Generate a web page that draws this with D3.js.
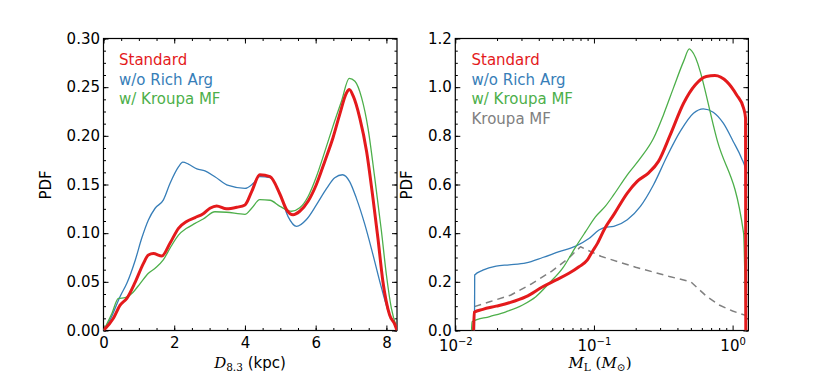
<!DOCTYPE html>
<html>
<head>
<meta charset="utf-8">
<script src="https://cdn.jsdelivr.net/npm/d3@7"></script>
<style>
  body { margin: 0; background: #fff; }
  svg { display: block; }
  .tick text { font-family: "DejaVu Sans", sans-serif; font-size: 15px; fill: #000; }
</style>
</head>
<body>
<div id="chart"></div>
<script>
// left panel: PDF of lens distance D_8.3 (kpc)
const distStandard = [[0,0],[0.28,0.0125],[0.47,0.026],[0.66,0.033],[0.9,0.05],[1.13,0.069],[1.27,0.0776],[1.41,0.079],[1.65,0.0766],[1.88,0.0896],[2.12,0.105],[2.35,0.112],[2.59,0.116],[2.82,0.12],[3.01,0.1256],[3.2,0.128],[3.48,0.125],[3.77,0.1266],[4.0,0.129],[4.19,0.1427],[4.42,0.16],[4.71,0.158],[4.99,0.14],[5.18,0.124],[5.36,0.119],[5.55,0.1225],[5.79,0.133],[6.02,0.15],[6.26,0.174],[6.49,0.198],[6.68,0.222],[6.87,0.244],[6.95,0.2475],[7.06,0.241],[7.25,0.218],[7.44,0.184],[7.62,0.136],[7.76,0.095],[7.9,0.0506],[8.09,0.016],[8.24,0.006],[8.3,0]];
const distNoRich = [[0,0],[0.2,0.012],[0.47,0.035],[0.66,0.0485],[0.9,0.0725],[1.08,0.0947],[1.27,0.1136],[1.46,0.1256],[1.69,0.134],[1.88,0.151],[2.12,0.168],[2.24,0.173],[2.4,0.171],[2.64,0.166],[2.87,0.164],[3.15,0.158],[3.53,0.149],[4.0,0.146],[4.23,0.151],[4.42,0.158],[4.71,0.157],[4.99,0.14],[5.22,0.117],[5.46,0.107],[5.74,0.114],[6.02,0.129],[6.31,0.146],[6.54,0.157],[6.76,0.16],[6.96,0.153],[7.15,0.136],[7.39,0.109],[7.62,0.078],[7.86,0.044],[8.09,0.016],[8.24,0.006],[8.3,0]];
const distKroupa = [[0,0],[0.24,0.0177],[0.42,0.033],[0.61,0.0337],[0.8,0.038],[1.04,0.0485],[1.27,0.0588],[1.46,0.064],[1.69,0.0725],[1.88,0.0845],[2.12,0.098],[2.35,0.105],[2.59,0.11],[2.82,0.1146],[3.15,0.122],[3.48,0.1215],[4.0,0.1194],[4.19,0.1256],[4.42,0.1344],[4.71,0.1338],[4.99,0.1276],[5.32,0.1225],[5.55,0.126],[5.79,0.138],[6.02,0.158],[6.26,0.184],[6.49,0.21],[6.73,0.2356],[6.95,0.259],[7.11,0.256],[7.3,0.239],[7.48,0.208],[7.67,0.157],[7.86,0.102],[8.0,0.0573],[8.14,0.023],[8.28,0.004]];

// right panel: PDF of lens mass M_L (M_sun)
const massStandard = [[0.01355,0],[0.0137,0.075],[0.0158,0.087],[0.0197,0.1],[0.0245,0.114],[0.0324,0.139],[0.0427,0.18],[0.053,0.207],[0.066,0.235],[0.078,0.262],[0.0897,0.29],[0.0973,0.324],[0.106,0.358],[0.12,0.42],[0.139,0.476],[0.174,0.565],[0.205,0.613],[0.247,0.647],[0.292,0.695],[0.355,0.804],[0.443,0.934],[0.537,1.009],[0.646,1.044],[0.746,1.048],[0.908,1.023],[1.07,0.968],[1.2,0.914],[1.24,0.873],[1.245,0]];
const massNoRich = [[0.01375,0],[0.0138,0.228],[0.0158,0.248],[0.0197,0.265],[0.0245,0.27],[0.0324,0.278],[0.0427,0.3],[0.0561,0.324],[0.0739,0.347],[0.092,0.378],[0.1087,0.413],[0.12,0.424],[0.139,0.428],[0.174,0.455],[0.2163,0.51],[0.269,0.599],[0.336,0.715],[0.419,0.818],[0.522,0.893],[0.615,0.911],[0.725,0.897],[0.857,0.852],[1.01,0.777],[1.16,0.708],[1.24,0.66],[1.245,0]];
const massKroupa = [[0.0131,0],[0.0132,0.036],[0.0177,0.057],[0.0232,0.077],[0.0306,0.105],[0.0381,0.139],[0.0475,0.194],[0.0593,0.255],[0.0739,0.344],[0.087,0.406],[0.1025,0.467],[0.121,0.511],[0.139,0.558],[0.174,0.64],[0.2163,0.708],[0.269,0.79],[0.317,0.886],[0.374,0.996],[0.443,1.106],[0.488,1.157],[0.507,1.149],[0.78,0.775],[1.2,0.4],[1.245,0]];
const kroupaMF = [[0.01365,0],[0.0137,0.098],[0.0177,0.118],[0.025,0.145],[0.035,0.19],[0.05,0.245],[0.065,0.295],[0.08,0.344],[0.112,0.305],[0.2,0.26],[0.35,0.222],[0.5,0.2],[0.65,0.14],[0.8,0.105],[1.0,0.08],[1.24,0.062]];

const distTicks = [0, 2, 4, 6, 8];
const distPdfTicks = [0, 0.05, 0.1, 0.15, 0.2, 0.25, 0.3];
const massTicks = [0.01, 0.1, 1];
const massPdfTicks = [0, 0.2, 0.4, 0.6, 0.8, 1.0, 1.2];
const leftLegend = ["Standard", "w/o Rich Arg", "w/ Kroupa MF"];
const rightLegend = ["Standard", "w/o Rich Arg", "w/ Kroupa MF", "Kroupa MF"];

const red = "#e41a1c", blue = "#377eb8", green = "#4daf4a", gray = "#808080";
const legendColors = [red, blue, green, gray];

const width = 831, height = 389;
const plotTop = 38.5, plotBottom = 330.5;

const svg = d3.select("#chart").append("svg")
  .attr("width", width).attr("height", height);

function frame(x, y, xMinor, yMinor, xFmt, yFmt) {
  const g = svg.append("g");
  const [x0, x1] = x.range();
  // minor ticks
  g.append("g").attr("transform", `translate(0,${plotBottom})`)
    .call(d3.axisBottom(x).tickValues(xMinor).tickSize(-2.5).tickSizeOuter(0).tickFormat(""));
  g.append("g").attr("transform", `translate(0,${plotTop})`)
    .call(d3.axisTop(x).tickValues(xMinor).tickSize(-2.5).tickSizeOuter(0).tickFormat(""));
  g.append("g").attr("transform", `translate(${x0},0)`)
    .call(d3.axisLeft(y).tickValues(yMinor).tickSize(-2.5).tickSizeOuter(0).tickFormat(""));
  g.append("g").attr("transform", `translate(${x1},0)`)
    .call(d3.axisRight(y).tickValues(yMinor).tickSize(-2.5).tickSizeOuter(0).tickFormat(""));
  // major ticks
  const xb = g.append("g").attr("transform", `translate(0,${plotBottom})`)
    .call(d3.axisBottom(x).tickValues(x.majors).tickSize(-5).tickSizeOuter(0).tickPadding(7).tickFormat(xFmt));
  g.append("g").attr("transform", `translate(0,${plotTop})`)
    .call(d3.axisTop(x).tickValues(x.majors).tickSize(-5).tickSizeOuter(0).tickFormat(""));
  g.append("g").attr("transform", `translate(${x0},0)`)
    .call(d3.axisLeft(y).tickValues(y.majors).tickSize(-5).tickSizeOuter(0).tickPadding(3.5).tickFormat(yFmt));
  g.append("g").attr("transform", `translate(${x1},0)`)
    .call(d3.axisRight(y).tickValues(y.majors).tickSize(-5).tickSizeOuter(0).tickFormat(""));
  g.selectAll(".domain").remove();
  g.selectAll(".tick line").attr("stroke", "#000").attr("stroke-width", 1);
  g.selectAll("g").attr("font-size", null).attr("font-family", null);
  g.append("rect")
    .attr("x", x0).attr("y", plotTop)
    .attr("width", x1 - x0).attr("height", plotBottom - plotTop)
    .attr("fill", "none").attr("stroke", "#000").attr("stroke-width", 1.2);
  return xb;
}

function curves(x, y, list, clipId) {
  svg.append("clipPath").attr("id", clipId).append("rect")
    .attr("x", x.range()[0]).attr("y", plotTop)
    .attr("width", x.range()[1] - x.range()[0]).attr("height", plotBottom - plotTop);
  const g = svg.append("g").attr("clip-path", `url(#${clipId})`);
  list.forEach(s => {
    const line = d3.line().x(d => x(d[0])).y(d => y(d[1])).curve(s.curve || d3.curveMonotoneX);
    g.append("path").datum(s.data)
      .attr("d", line)
      .attr("fill", "none")
      .attr("stroke", s.color)
      .attr("stroke-width", s.w)
      .attr("stroke-dasharray", s.dash || null)
      .attr("stroke-linejoin", "round");
  });
}

function legend(x0, names) {
  svg.append("g").selectAll("text").data(names).enter().append("text")
    .attr("x", x0).attr("y", (d, i) => 65 + i * 19.5)
    .attr("fill", (d, i) => legendColors[i])
    .attr("font-family", "DejaVu Sans, sans-serif").attr("font-size", 15)
    .text(d => d);
}

function ylabel(cx) {
  svg.append("text")
    .attr("transform", `translate(${cx},185) rotate(-90)`)
    .attr("text-anchor", "middle")
    .attr("font-family", "DejaVu Sans, sans-serif").attr("font-size", 15)
    .text("PDF");
}

// ---- left panel
const xL = d3.scaleLinear().domain([0, 8.3]).range([103.5, 397]);
const yL = d3.scaleLinear().domain([0, 0.3]).range([plotBottom, plotTop]);
xL.majors = distTicks;
yL.majors = distPdfTicks;
frame(xL, yL, d3.range(0, 8.3, 0.5), d3.range(0, 0.3001, 0.0125), d3.format("d"), d3.format(".2f"));
curves(xL, yL, [
  { data: distNoRich, color: blue, w: 1.3 },
  { data: distKroupa, color: green, w: 1.3 },
  { data: distStandard, color: red, w: 3 }
], "clipL");
legend(119, leftLegend);
ylabel(51);

const xLab = svg.append("text").attr("x", 250).attr("y", 368).attr("text-anchor", "middle")
  .attr("font-size", 15).attr("font-family", "DejaVu Sans, sans-serif");
xLab.append("tspan").attr("font-family", "DejaVu Serif, serif").attr("font-style", "italic").text("D");
xLab.append("tspan").attr("font-family", "DejaVu Serif, serif").attr("font-size", 10.5).attr("dy", 3).text("8.3");
xLab.append("tspan").attr("dy", -3).text(" (kpc)");

// ---- right panel
const xR = d3.scaleLog().domain([0.01, 1.3]).range([455.3, 748.4]);
const yR = d3.scaleLinear().domain([0, 1.2]).range([plotBottom, plotTop]);
xR.majors = massTicks;
yR.majors = massPdfTicks;
const massMinor = [];
[0.01, 0.1, 1].forEach(dec => d3.range(2, 10).forEach(k => { if (dec * k <= 1.3) massMinor.push(dec * k); }));
const xbR = frame(xR, yR, massMinor, d3.range(0, 1.2001, 0.05), () => "", d3.format(".1f"));
xbR.selectAll(".tick text").each(function (d) {
  const t = d3.select(this).attr("dy", null).attr("y", 20.5);
  t.append("tspan").text("10");
  t.append("tspan").attr("font-size", 10).attr("dy", -6.5).text(d === 1 ? "0" : "\u2212" + Math.round(-Math.log10(d)));
});
curves(xR, yR, [
  { data: kroupaMF, color: gray, w: 1.5, dash: "7,5", curve: d3.curveLinear },
  { data: massNoRich, color: blue, w: 1.3 },
  { data: massKroupa, color: green, w: 1.3 },
  { data: massStandard, color: red, w: 3 }
], "clipR");
legend(471.5, rightLegend);
ylabel(412);

const mLab = svg.append("text").attr("x", 600).attr("y", 368).attr("text-anchor", "middle")
  .attr("font-size", 15).attr("font-family", "DejaVu Serif, serif");
mLab.append("tspan").attr("font-style", "italic").text("M");
mLab.append("tspan").attr("font-size", 10.5).attr("dy", 3).text("L");
mLab.append("tspan").attr("dy", -3).text(" (");
mLab.append("tspan").attr("font-style", "italic").text("M");
mLab.append("tspan").attr("font-size", 10.5).attr("dy", 3).text("\u2299");
mLab.append("tspan").attr("dy", -3).text(")");
</script>
</body>
</html>
